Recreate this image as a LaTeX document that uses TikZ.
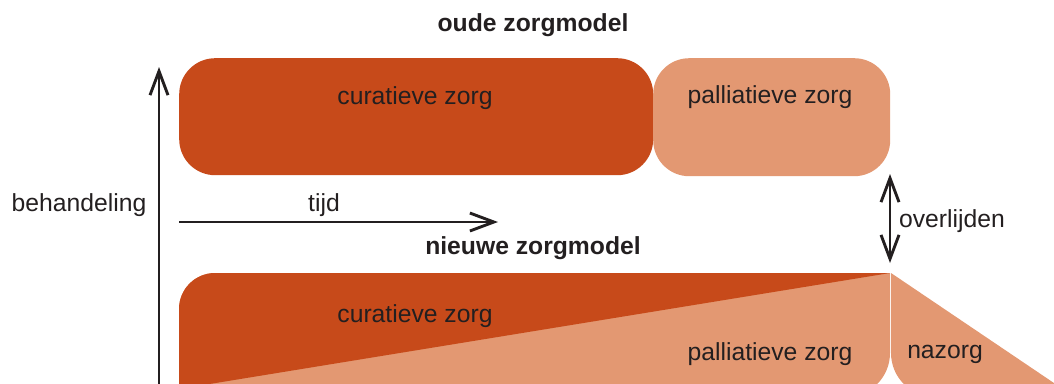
\documentclass[tikz,border=0pt]{standalone}
\usepackage{fontspec}
\setmainfont{Liberation Sans}
\usetikzlibrary{arrows.meta}
\definecolor{careDark}{RGB}{199,74,26}
\definecolor{careLight}{RGB}{227,152,114}
\definecolor{ink}{RGB}{35,31,32}
\tikzset{
  lbl/.style={text=ink, font=\fontsize{24.7}{29}\selectfont, inner sep=0pt},
  ttl/.style={lbl, font=\fontsize{24.7}{29}\selectfont\bfseries},
  darkbox/.style={fill=careDark, rounded corners=36pt, anchor=north west, inner sep=0pt},
  lightbox/.style={fill=careLight, rounded corners=36pt, anchor=north west, inner sep=0pt},
  barb/.tip={Straight Barb[length=24pt,width=18pt]},
  axisarrow/.style={draw=ink, line width=2.9pt, -barb},
  botharrow/.style={draw=ink, line width=2.9pt, barb-barb}
}
\begin{document}
\begin{tikzpicture}[x=1pt,y=-1pt]
\useasboundingbox (0,0) rectangle (1054,383);
\clip (0,0) rectangle (1054,383);

% old care model: two blocks side by side
\node[ttl] (oldTitle) at (533,25) {oude zorgmodel};
\node[darkbox, minimum width=474pt, minimum height=117pt] (oldCur) at (179,58) {};
\node[lightbox, minimum width=237pt, minimum height=118pt] (oldPal) at (653,58) {};
\node[lbl] (oldCurTxt) at (415,98) {curatieve zorg};
\node[lbl] (oldPalTxt) at (770,97) {palliatieve zorg};

% new care model: curative care fades into palliative care, then aftercare
\fill[careLight] (179,397) [rounded corners=36pt] -- (179,273) [sharp corners] -- (890,273)
  [rounded corners=44pt] -- (890,397) [sharp corners] -- cycle;
\fill[careDark] (179,389) [rounded corners=36pt] -- (179,273) [sharp corners] -- (890,273) -- cycle;
\fill[careLight] (891,273) -- (1080,400.6) -- (1080,397) [rounded corners=44pt] -- (891,397)
  [sharp corners] -- cycle;
\node[ttl] (newTitle) at (533,248) {nieuwe zorgmodel};
\node[lbl] (newCurTxt) at (415,316) {curatieve zorg};
\node[lbl] (newPalTxt) at (770,354) {palliatieve zorg};
\node[lbl] (afterTxt) at (945,354) {nazorg};

% axes
\coordinate (axBottom) at (159,400);
\coordinate (axTop) at (159,67);
\draw[axisarrow] (axBottom) -- (axTop);
\node[lbl] (axLabel) at (79,205) {behandeling};

\coordinate (timeStart) at (179,222);
\coordinate (timeEnd) at (498,222);
\draw[axisarrow] (timeStart) -- (timeEnd);
\node[lbl] (timeLabel) at (324,205) {tijd};

% moment of death
\coordinate (deathTop) at (890,174);
\coordinate (deathBottom) at (890,263);
\draw[botharrow] (deathTop) -- (deathBottom);
\node[lbl] (deathLabel) at (952,221) {overlijden};
\end{tikzpicture}
\end{document}
